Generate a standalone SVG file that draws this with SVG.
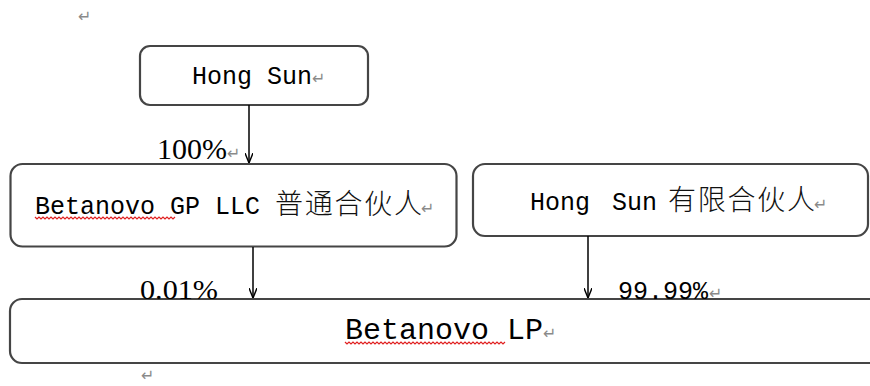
<svg xmlns="http://www.w3.org/2000/svg" width="870" height="386" viewBox="0 0 870 386">
  <defs>
    <marker id="arr" viewBox="0 0 10 8" refX="10" refY="4" markerWidth="10" markerHeight="8" markerUnits="userSpaceOnUse" orient="auto">
      <path d="M0,0 L10,4 L0,8" fill="none" stroke="#000" stroke-width="1.4"/>
    </marker>
  </defs>
  <style>
    .box { fill: #fff; stroke: #454545; stroke-width: 2.2; }
    .mono { font-family: "Liberation Mono", "DejaVu Sans Mono", monospace; fill: #000; }
    .serif { font-family: "Liberation Serif", "DejaVu Serif", serif; fill: #000; }
    .cjk { font-family: "Noto Sans CJK SC", "Noto Sans CJK TC", sans-serif; fill: #111; font-weight: 300; }
    .ret { font-family: "DejaVu Sans", sans-serif; fill: #8a8a8a; font-size: 16px; }
    .wave { fill: none; stroke: #e02020; stroke-width: 1.2; }
    .conn { stroke: #000; stroke-width: 1.5; fill: none; }
  </style>
  <rect width="870" height="386" fill="#fff"/>

  <text class="ret" x="78" y="22">↵</text>

  <g id="node-hongsun">
    <rect class="box" x="140" y="46" width="228" height="59" rx="10"/>
    <text class="mono" x="192" y="84" font-size="25">Hong Sun</text>
    <text class="ret" x="312" y="84">↵</text>
  </g>

  <g id="node-gp">
    <rect class="box" x="10.5" y="164" width="446" height="82.5" rx="12"/>
    <text class="mono" x="35" y="214" font-size="25">Betanovo GP LLC</text>
    <text class="cjk" x="275" y="214" font-size="28" textLength="147" lengthAdjust="spacing">普通合伙人</text>
    <text class="ret" x="421" y="214">↵</text>
    <path class="wave" d="M35,217 l2,2 l2,-2 l2,2 l2,-2 l2,2 l2,-2 l2,2 l2,-2 l2,2 l2,-2 l2,2 l2,-2 l2,2 l2,-2 l2,2 l2,-2 l2,2 l2,-2 l2,2 l2,-2 l2,2 l2,-2 l2,2 l2,-2 l2,2 l2,-2 l2,2 l2,-2 l2,2 l2,-2 l2,2 l2,-2 l2,2 l2,-2 l2,2 l2,-2 l2,2 l2,-2 l2,2 l2,-2 l2,2 l2,-2 l2,2 l2,-2 l2,2 l2,-2 l2,2 l2,-2 l2,2 l2,-2 l2,2 l2,-2 l2,2 l2,-2 l2,2 l2,-2 l2,2 l2,-2 l2,2 l2,-2 l2,2 l2,-2 l2,2 l2,-2 l2,2 l2,-2 l2,2 l2,-2 l2,2 l2,-2"/>
  </g>

  <g id="node-hongsun-lp">
    <rect class="box" x="473" y="164" width="395" height="72" rx="12"/>
    <text class="mono" x="530" y="210" font-size="25">Hong</text>
    <text class="mono" x="612" y="210" font-size="25">Sun</text>
    <text class="cjk" x="668" y="210" font-size="28" textLength="147" lengthAdjust="spacing">有限合伙人</text>
    <text class="ret" x="814" y="210">↵</text>
  </g>

  <g id="node-lp">
    <rect class="box" x="10" y="299" width="880" height="64" rx="12"/>
    <text class="mono" x="345" y="339" font-size="30" textLength="198" lengthAdjust="spacing">Betanovo LP</text>
    <text class="ret" x="543" y="339">↵</text>
    <path class="wave" d="M345,342 l2,2 l2,-2 l2,2 l2,-2 l2,2 l2,-2 l2,2 l2,-2 l2,2 l2,-2 l2,2 l2,-2 l2,2 l2,-2 l2,2 l2,-2 l2,2 l2,-2 l2,2 l2,-2 l2,2 l2,-2 l2,2 l2,-2 l2,2 l2,-2 l2,2 l2,-2 l2,2 l2,-2 l2,2 l2,-2 l2,2 l2,-2 l2,2 l2,-2 l2,2 l2,-2 l2,2 l2,-2 l2,2 l2,-2 l2,2 l2,-2 l2,2 l2,-2 l2,2 l2,-2 l2,2 l2,-2 l2,2 l2,-2 l2,2 l2,-2 l2,2 l2,-2 l2,2 l2,-2 l2,2 l2,-2 l2,2 l2,-2 l2,2 l2,-2 l2,2 l2,-2 l2,2 l2,-2 l2,2 l2,-2 l2,2 l2,-2 l2,2 l2,-2 l2,2 l2,-2 l2,2 l2,-2 l2,2 l2,-2"/>
  </g>

  <g id="connectors">
    <line class="conn" x1="249" y1="105" x2="249" y2="163" marker-end="url(#arr)"/>
    <line class="conn" x1="253" y1="247" x2="253" y2="298" marker-end="url(#arr)"/>
    <line class="conn" x1="588" y1="236" x2="588" y2="298" marker-end="url(#arr)"/>
    <text class="serif" x="157" y="159" font-size="29" textLength="70" lengthAdjust="spacingAndGlyphs">100%</text>
    <text class="ret" x="227" y="159">↵</text>
    <text class="serif" x="140" y="299" font-size="28" textLength="78" lengthAdjust="spacingAndGlyphs">0.01%</text>
    <text class="mono" x="618" y="299" font-size="25">99.99%</text>
    <text class="ret" x="709" y="299">↵</text>
  </g>

  <text class="ret" x="141" y="381">↵</text>
</svg>
